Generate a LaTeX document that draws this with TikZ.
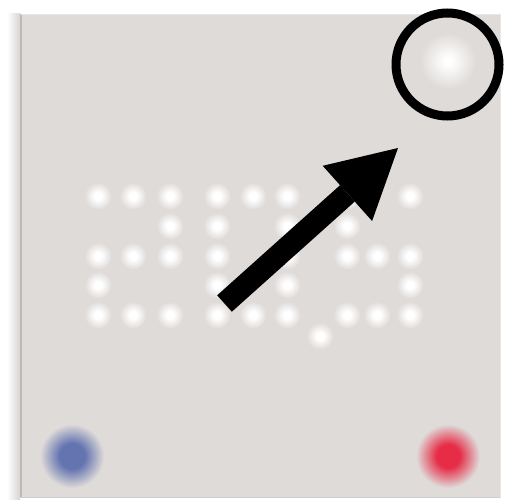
\documentclass[tikz,border=0pt]{standalone}
\usetikzlibrary{arrows.meta}
\definecolor{panel}{RGB}{223,219,217}
\definecolor{edgegray}{RGB}{190,185,181}
\definecolor{ledblue}{RGB}{100,116,176}
\definecolor{ledred}{RGB}{230,44,70}
\pgfdeclareradialshading{ledglow}{\pgfpoint{0bp}{0bp}}{color(0bp)=(white); color(7bp)=(white); color(25bp)=(panel); color(50bp)=(panel)}
\pgfdeclareradialshading{btnglow}{\pgfpoint{0bp}{0bp}}{color(0bp)=(white); color(3bp)=(white); color(25bp)=(panel); color(50bp)=(panel)}
\pgfdeclareradialshading{blueglow}{\pgfpoint{0bp}{0bp}}{color(0bp)=(ledblue); color(10bp)=(ledblue); color(25bp)=(panel); color(50bp)=(panel)}
\pgfdeclareradialshading{redglow}{\pgfpoint{0bp}{0bp}}{color(0bp)=(ledred); color(9bp)=(ledred); color(25bp)=(panel); color(50bp)=(panel)}
\tikzset{
  led/.style={circle, inner sep=0pt, minimum size=27pt, shade, shading=ledglow},
  lamp/.style={circle, inner sep=0pt, minimum size=#1, shade},
  ring/.style={circle, draw=black, line width=9pt, inner sep=0pt, minimum size=103pt},
  pointer/.style={fill=black}
}
\begin{document}
\begin{tikzpicture}[x=1pt,y=-1pt]
\useasboundingbox (0,0) rectangle (505,503);
\fill[white] (0,0) rectangle (505,503);
% panel
\shade[left color=white, right color=edgegray!60] (7,14) rectangle (20,499);
\fill[panel] (20,14) rectangle (501,498);
\draw[edgegray, line width=2pt] (21,14) -- (21,497);
\draw[edgegray!70, line width=1.5pt] (21,497.5) -- (501,497.5);
\draw[edgegray!35, line width=1pt] (21,14.5) -- (501,14.5);
\draw[edgegray!35, line width=1pt] (500.5,14) -- (500.5,498);
% LED matrix
\foreach \px/\py [count=\k] in {
  98/196,133/196,170/196,170/226,98/256,133/256,170/256,98/285,98/315,133/315,170/315,
  217/196,253/196,287/196,217/226,287/226,217/256,287/256,217/285,287/285,217/315,253/315,287/315,
  347/196,410/196,347/226,347/256,377/256,410/256,410/285,347/315,377/315,410/315,
  320/336}
  \node[led] (d\k) at (\px,\py) {};
% colour LEDs
\node[lamp=64pt, shading=blueglow] (blue) at (72,456) {};
\node[lamp=64pt, shading=redglow] (red) at (448,456) {};
% button with glow and marking ring
\node[lamp=56pt, shading=btnglow] (glow) at (448,61) {};
\node[ring] (button) at (447.5,64.5) {};
% arrow
\coordinate (tail) at (224.5,303.5);
\coordinate (base) at (347.4,193.4);
\coordinate (tip) at (398,148);
\coordinate (hl) at (322.7,165.8);
\coordinate (hr) at (372.1,221.0);
\draw[line width=22pt] (tail) -- (base);
\fill[pointer] (tip) -- (hl) -- (hr) -- cycle;
\end{tikzpicture}
\end{document}
